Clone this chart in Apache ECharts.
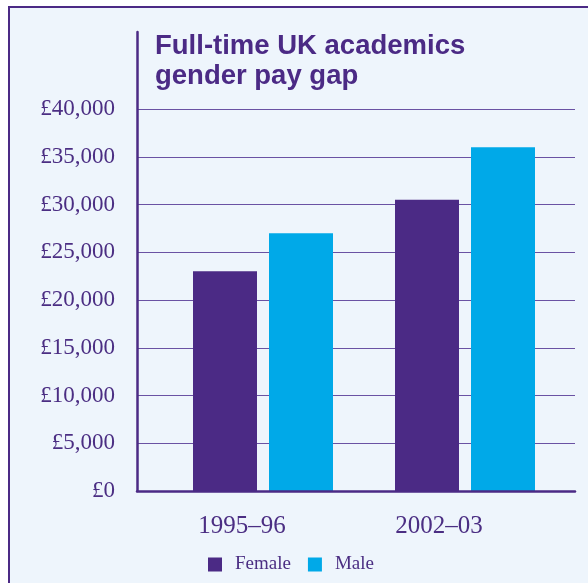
<!DOCTYPE html>
<html>
<head>
<meta charset="utf-8">
<style>
  html, body { margin: 0; padding: 0; background: #ffffff; }
  #chart { width: 588px; height: 583px; }
</style>
<script src="https://cdn.jsdelivr.net/npm/echarts@6/dist/echarts.min.js"></script>
</head>
<body>
<div id="chart"></div>
<script>
// Academic years shown on the x axis
const years = ['1995–96', '2002–03'];
// Average full-time salary (GBP) by gender
const female = [23000, 30500];
const male = [27000, 36000];
// Value axis range and step
const yMin = 0;
const yMax = 40000;
const yStep = 5000;

const purple = '#4b2a85';
const cyan = '#00a9e8';
const ink = '#4b2e83';
const serif = '"Liberation Serif", "DejaVu Serif", serif';
const sans = '"Liberation Sans", Arial, sans-serif';

const plotTop = 109;
const plotBottom = 92;

function fmtPounds(v) {
  return '£' + v.toLocaleString('en-GB');
}

const chart = echarts.init(document.getElementById('chart'), null, { renderer: 'canvas' });

const hiddenX = (gridIndex) => ({
  type: 'category', gridIndex, data: years,
  axisLine: { show: false }, axisTick: { show: false }, axisLabel: { show: false }, splitLine: { show: false }
});
const hiddenY = (gridIndex) => ({
  type: 'value', gridIndex, min: yMin, max: yMax, interval: yStep,
  axisLine: { show: false }, axisTick: { show: false }, axisLabel: { show: false }, splitLine: { show: false }
});

chart.setOption({
  backgroundColor: '#ffffff',
  animation: false,
  graphic: [{
    type: 'rect',
    z: -10,
    shape: { x: 9, y: 7, width: 700, height: 700 },
    style: { fill: '#eef5fc', stroke: purple, lineWidth: 2 }
  }],
  title: {
    text: 'Full-time UK academics\ngender pay gap',
    left: 155,
    top: 31,
    padding: 0,
    textStyle: { fontFamily: sans, fontWeight: 'bold', fontSize: 27.5, lineHeight: 30, color: purple }
  },
  legend: {
    data: ['Female', 'Male'],
    left: 208,
    top: 555,
    padding: 0,
    itemWidth: 14,
    itemHeight: 14,
    itemGap: 17,
    icon: 'rect',
    textStyle: { fontFamily: serif, fontSize: 19, color: ink, padding: [0, 0, 0, 8] }
  },
  grid: [
    // gridlines, value labels and the baseline
    { left: 137, right: 13, top: plotTop, bottom: plotBottom },
    // bars
    { left: 162, width: 404, top: plotTop, bottom: plotBottom },
    // year labels
    { left: 143.5, width: 394, top: plotTop, bottom: plotBottom },
    // tall vertical axis rule
    { left: 137, width: 1, top: 32, bottom: plotBottom }
  ],
  xAxis: [
    {
      type: 'category', gridIndex: 0, data: years,
      axisLine: { show: true, lineStyle: { color: purple, width: 2.5 } },
      axisTick: { show: false }, axisLabel: { show: false }, splitLine: { show: false },
      z: 5
    },
    hiddenX(1),
    {
      type: 'category', gridIndex: 2, data: years,
      axisLine: { show: false }, axisTick: { show: false }, splitLine: { show: false },
      axisLabel: { show: true, margin: 23, fontFamily: serif, fontSize: 25, color: ink }
    },
    hiddenX(3)
  ],
  yAxis: [
    {
      type: 'value', gridIndex: 0, min: yMin, max: yMax, interval: yStep,
      axisLine: { show: false }, axisTick: { show: false },
      axisLabel: { margin: 22, fontFamily: serif, fontSize: 23, color: ink, formatter: fmtPounds },
      splitLine: { show: true, lineStyle: { color: '#6a52a3', width: 1 } }
    },
    hiddenY(1),
    hiddenY(2),
    {
      type: 'value', gridIndex: 3, min: 0, max: 1,
      axisLine: { show: true, lineStyle: { color: purple, width: 2.5 } },
      axisTick: { show: false }, axisLabel: { show: false }, splitLine: { show: false },
      z: 5
    }
  ],
  series: [
    {
      name: 'Female', type: 'bar', xAxisIndex: 1, yAxisIndex: 1,
      data: female, barWidth: 64, barGap: '18.75%',
      itemStyle: { color: purple }, z: 3
    },
    {
      name: 'Male', type: 'bar', xAxisIndex: 1, yAxisIndex: 1,
      data: male, barWidth: 64, barGap: '18.75%',
      itemStyle: { color: cyan }, z: 3
    }
  ]
});
</script>
</body>
</html>
